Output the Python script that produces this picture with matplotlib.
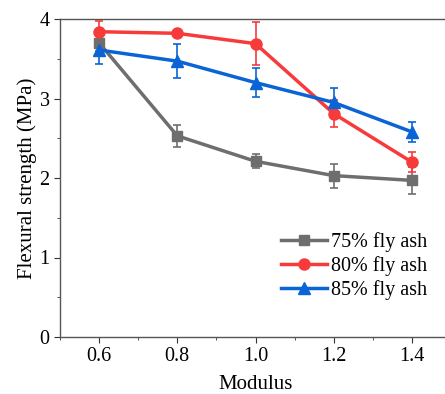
import matplotlib
matplotlib.use("Agg")
import matplotlib.pyplot as plt
from matplotlib.ticker import MultipleLocator

plt.rcParams['font.family'] = ['Liberation Serif', 'DejaVu Serif']

modulus = [0.6, 0.8, 1.0, 1.2, 1.4]
fa75 = [3.70, 2.53, 2.21, 2.03, 1.97]
fa75_err = [0.10, 0.14, 0.09, 0.15, 0.17]
fa80 = [3.84, 3.82, 3.69, 2.81, 2.20]
fa80_err = [0.13, 0.03, 0.27, 0.17, 0.13]
fa85 = [3.61, 3.47, 3.20, 2.95, 2.58]
fa85_err = [0.17, 0.21, 0.18, 0.18, 0.13]

series = [
    (fa75, fa75_err, '75% fly ash', '#6e6e6e', 's', 7),
    (fa80, fa80_err, '80% fly ash', '#f73b3b', 'o', 8),
    (fa85, fa85_err, '85% fly ash', '#0a64d6', '^', 8.5),
]

fig = plt.figure(figsize=(4.45, 3.94), dpi=100)
# right spine falls just outside the cropped picture
ax = fig.add_axes([60 / 445, 57 / 394, 391 / 445, 318 / 394])

handles = []
for vals, err, label, color, marker, ms in series:
    c = ax.errorbar(modulus, vals, yerr=err, color=color, ecolor=color,
                    elinewidth=1.2, capsize=3, capthick=1.2,
                    lw=2.5, marker=marker, markersize=ms, label=label)
    handles.append(c[0])  # line only, no error bar in legend

ax.set_xlim(0.5, 1.5)
ax.set_ylim(0, 4)
ax.xaxis.set_minor_locator(MultipleLocator(0.1))
ax.yaxis.set_major_locator(MultipleLocator(1))
ax.yaxis.set_minor_locator(MultipleLocator(0.5))
ax.set_xticks(modulus)
ax.set_xticklabels(['0.6', '0.8', '1.0', '1.2', '1.4'])
ax.tick_params(which='both', direction='out', labelsize=14.5, color='#333333')
ax.tick_params(which='major', length=4)
ax.tick_params(which='minor', length=2.5)
for s in ax.spines.values():
    s.set_color('#555555')
    s.set_linewidth(1)

ax.set_xlabel('Modulus', fontsize=15, labelpad=6)
ax.set_ylabel('Flexural strength (MPa)', fontsize=15, labelpad=2)

ax.legend(handles, [s[2] for s in series], loc='lower right',
          bbox_to_anchor=(0.96, 0.09), frameon=False,
          fontsize=14.5, handlelength=2.3, handletextpad=0.2, labelspacing=0.2,
          borderaxespad=0)

fig.savefig('out.png', dpi=100)
